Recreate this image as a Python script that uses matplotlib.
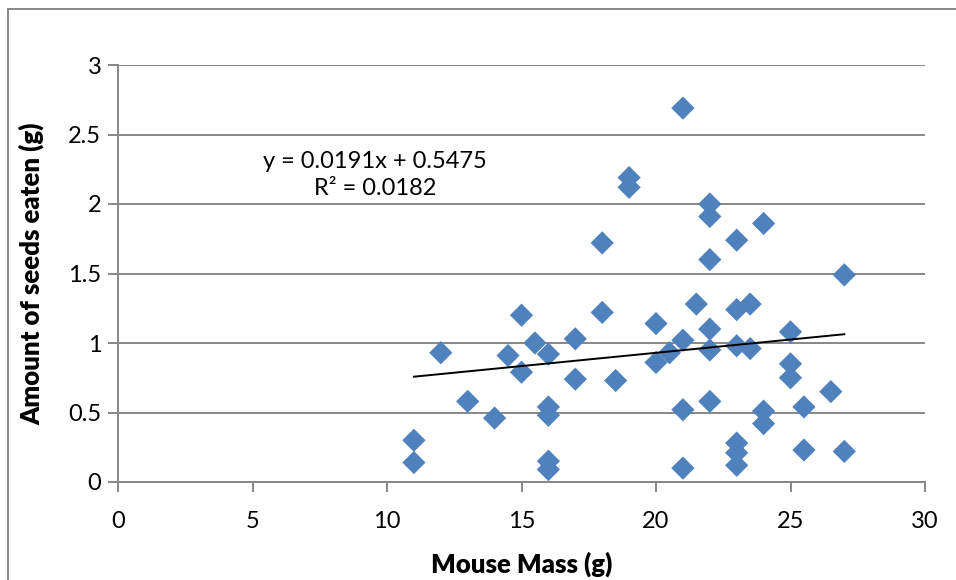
import matplotlib

matplotlib.use("Agg")
import matplotlib.pyplot as plt
from matplotlib.lines import Line2D
import numpy as np

# Mouse mass (g) and seeds eaten (g)
mass = [11, 11, 12, 13, 14, 14.5, 15, 15, 15.5,
        16, 16, 16, 16, 16, 17, 17, 18, 18, 18.5,
        19, 19, 20, 20, 20.5, 21, 21, 21, 21, 21.5,
        22, 22, 22, 22, 22, 22,
        23, 23, 23, 23, 23, 23, 23.5, 23.5,
        24, 24, 24, 25, 25, 25, 25.5, 25.5, 26.5, 27, 27]
seeds = [0.30, 0.14, 0.93, 0.58, 0.46, 0.91, 1.20, 0.79, 1.00,
         0.92, 0.54, 0.48, 0.15, 0.09, 1.03, 0.74, 1.72, 1.22, 0.73,
         2.19, 2.12, 1.14, 0.86, 0.93, 2.69, 1.02, 0.52, 0.10, 1.28,
         2.00, 1.91, 1.60, 1.10, 0.95, 0.58,
         1.74, 1.24, 0.98, 0.28, 0.21, 0.12, 1.28, 0.96,
         1.86, 0.51, 0.42, 1.08, 0.85, 0.75, 0.54, 0.23, 0.65, 1.49, 0.22]

# linear trendline as printed on the chart
slope, intercept, r2 = 0.0191, 0.5475, 0.0182

x_ticks = [0, 5, 10, 15, 20, 25, 30]
y_ticks = [0, 0.5, 1, 1.5, 2, 2.5, 3]

plt.rcParams["font.family"] = ["Lato", "DejaVu Sans"]

fig = plt.figure(figsize=(9.56, 5.8), dpi=100)
ax = fig.add_axes([118 / 956, 98 / 580, 807 / 956, 417 / 580])

grey = "#878787"
ax.set_xlim(0, 30)
ax.set_ylim(0, 3)
ax.set_xticks(x_ticks)
ax.set_yticks(y_ticks)
ax.set_xticklabels([str(t) for t in x_ticks])
ax.set_yticklabels(["0", "0.5", "1", "1.5", "2", "2.5", "3"])
ax.yaxis.grid(True, color=grey, linewidth=1.4)
ax.set_axisbelow(True)
for side in ["top", "right"]:
    ax.spines[side].set_visible(False)
for side in ["left", "bottom"]:
    ax.spines[side].set_color(grey)
    ax.spines[side].set_linewidth(1.4)
ax.spines["bottom"].set_zorder(0.5)
ax.tick_params(axis="both", colors=grey, width=1.4, length=7, labelcolor="black", labelsize=17)
ax.tick_params(axis="x", pad=14)
ax.tick_params(axis="y", pad=5)

ax.scatter(mass, seeds, marker="D", s=140, color="#4F81BD", edgecolors="none", zorder=3,
           clip_on=False)

xs = np.array([min(mass), max(mass)])
ax.plot(xs, slope * xs + intercept, color="black", linewidth=1.4, zorder=4)

ax.text(9.55, 2.21, f"y = {slope}x + {intercept}\nR² = {r2}", ha="center", va="center",
        fontsize=17, linespacing=1.35)

ax.set_xlabel("Mouse Mass (g)", fontsize=18.5, fontweight="heavy", labelpad=14)
ax.set_ylabel("Amount of seeds eaten (g)", fontsize=18.5, fontweight="heavy", labelpad=17)

# chart area border (left and top edges visible in the crop)
fig.add_artist(Line2D([8 / 956, 8 / 956], [0, 1 - 9 / 580], color=grey, linewidth=1.4,
                      transform=fig.transFigure))
fig.add_artist(Line2D([8 / 956, 1], [1 - 9 / 580, 1 - 9 / 580], color=grey, linewidth=1.4,
                      transform=fig.transFigure))

fig.savefig("out.png", dpi=100)
